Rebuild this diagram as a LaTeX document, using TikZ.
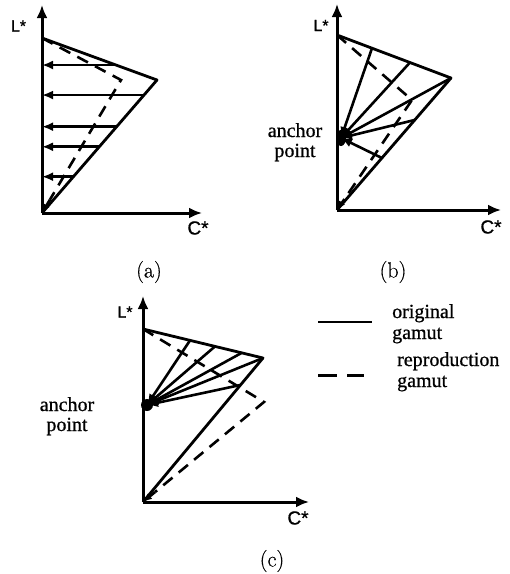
\documentclass[tikz,border=0pt]{standalone}
\usepackage{fontspec}
\newfontfamily\sansf[FakeBold=0.8]{Liberation Sans}
\newfontfamily\serf[FakeBold=0.8]{Liberation Serif}
\newfontfamily\capf[FakeBold=0.5]{Latin Modern Roman}
\usetikzlibrary{arrows.meta,calc}
\begin{document}
\begin{tikzpicture}[x=1pt,y={(0pt,-1pt)},
  axisline/.style={line width=3pt,-{Latex[length=13pt,width=11pt]}},
  gamut/.style={line width=2.8pt,line join=round},
  repro/.style={line width=2.6pt,dash pattern=on 12pt off 8pt},
  reproend/.style={line width=2.6pt,dash pattern=on 12pt off 8pt,-{Latex[length=9pt,width=7pt]}},
  maparrow/.style={line width=2.6pt,-{Latex[length=11pt,width=9pt]}},
  lsym/.style={font=\sansf\fontsize{16}{16}\selectfont,inner sep=0pt},
  csym/.style={font=\sansf\fontsize{19}{19}\selectfont,inner sep=0pt},
  caption/.style={font=\capf\fontsize{22}{22}\selectfont,inner sep=0pt},
  txt/.style={font=\serf\fontsize{20}{20}\selectfont,inner sep=0pt},
  anchordot/.style={fill=black}]
\useasboundingbox (0,0) rectangle (510,574);

% ---------------- panel (a)
\coordinate (Oa) at (42,213);
\coordinate (Ya) at (42,5);
\coordinate (Xa) at (202,213);
\coordinate (Ta) at (42,38);
\coordinate (Ka) at (157,80);
\coordinate (Ra) at (121,80);
\draw[axisline] (Oa) -- (Ya);
\draw[axisline] (Oa) -- (Xa);
\draw[gamut] (Ta) -- (Ka) -- (Oa);
\draw[repro] (Ta) -- (Ra) -- ($(Ra)!0.9!(Oa)$);
\draw[reproend] ($(Ra)!0.9!(Oa)$) -- (Oa);
\coordinate (a1) at ($(Ta)!0.643!(Ka)$);
\coordinate (a2) at ($(Ka)!0.113!(Oa)$);
\coordinate (a3) at ($(Ka)!0.351!(Oa)$);
\coordinate (a4) at ($(Ka)!0.502!(Oa)$);
\coordinate (a5) at ($(Ka)!0.727!(Oa)$);
\foreach \p in {a1,a2,a3,a4,a5}{
  \draw[maparrow] (\p) -- (\p -| Oa);
}
\node[lsym] (La) at (18.5,26) {L*};
\node[csym] (Ca) at (198,228) {C*};
\node[caption] (capa) at (149,272) {(a)};

% ---------------- panel (b)
\coordinate (Ob) at (337,210);
\coordinate (Yb) at (337,4);
\coordinate (Xb) at (501,210);
\coordinate (Tb) at (337,35);
\coordinate (Kb) at (451,78);
\coordinate (Rb) at (412,100);
\coordinate (Ab) at (341,138);
\draw[axisline] (Ob) -- (Yb);
\draw[axisline] (Ob) -- (Xb);
\draw[gamut] (Tb) -- (Kb) -- (Ob);
\draw[repro] (Tb) -- (Rb) -- ($(Rb)!0.9!(Ob)$);
\draw[reproend] ($(Rb)!0.9!(Ob)$) -- (Ob);
\coordinate (b1) at ($(Tb)!0.307!(Kb)$);
\coordinate (b2) at ($(Tb)!0.64!(Kb)$);
\coordinate (b3) at (Kb);
\coordinate (b4) at ($(Kb)!0.318!(Ob)$);
\coordinate (b5) at ($(Kb)!0.606!(Ob)$);
\foreach \p in {b1,b2,b3,b4,b5}{
  \draw[maparrow] (\p) -- (Ab);
}
\fill[anchordot] (Ab) ellipse (5 and 8);
\node[lsym] (Lb) at (321,25.5) {L*};
\node[csym] (Cb) at (491,227) {C*};
\node[txt,anchor=base] (anb1) at (295,137) {anchor};
\node[txt,anchor=base] (anb2) at (295,157) {point};
\node[caption] (capb) at (393,272) {(b)};

% ---------------- panel (c)
\coordinate (Oc) at (143,502);
\coordinate (Yc) at (143,296);
\coordinate (Xc) at (309,502);
\coordinate (Tc) at (143,329);
\coordinate (Kc) at (263,358);
\coordinate (Rc) at (264,402);
\coordinate (Ac) at (147,405);
\draw[axisline] (Oc) -- (Yc);
\draw[axisline] (Oc) -- (Xc);
\draw[gamut] (Tc) -- (Kc) -- (Oc);
\draw[repro] (Tc) -- (Rc) -- ($(Rc)!0.9!(Oc)$);
\draw[reproend] ($(Rc)!0.9!(Oc)$) -- (Oc);
\coordinate (c1) at ($(Tc)!0.392!(Kc)$);
\coordinate (c2) at ($(Tc)!0.6!(Kc)$);
\coordinate (c3) at ($(Tc)!0.8225!(Kc)$);
\coordinate (c4) at (Kc);
\coordinate (c5) at ($(Kc)!0.1875!(Oc)$);
\foreach \p in {c1,c2,c3,c4,c5}{
  \draw[maparrow] (\p) -- (Ac);
}
\fill[anchordot] (Ac) ellipse (6 and 6);
\node[lsym] (Lc) at (125,312) {L*};
\node[csym] (Cc) at (298,518) {C*};
\node[txt,anchor=base] (anc1) at (67,411) {anchor};
\node[txt,anchor=base] (anc2) at (67,431) {point};
\node[caption] (capc) at (272,561) {(c)};

% ---------------- legend
\coordinate (l1a) at (318,322);
\coordinate (l1b) at (372,322);
\coordinate (l2a) at (318,375);
\coordinate (l2b) at (364,375);
\draw[line width=2.4pt] (l1a) -- (l1b);
\draw[line width=3pt,dash pattern=on 19pt off 10pt] (l2a) -- (l2b);
\node[txt,anchor=base west] (g1) at (392,318) {original};
\node[txt,anchor=base west] (g2) at (392,339) {gamut};
\node[txt,anchor=base west] (g3) at (397,366) {reproduction};
\node[txt,anchor=base west] (g4) at (397,387) {gamut};
\end{tikzpicture}
\end{document}
